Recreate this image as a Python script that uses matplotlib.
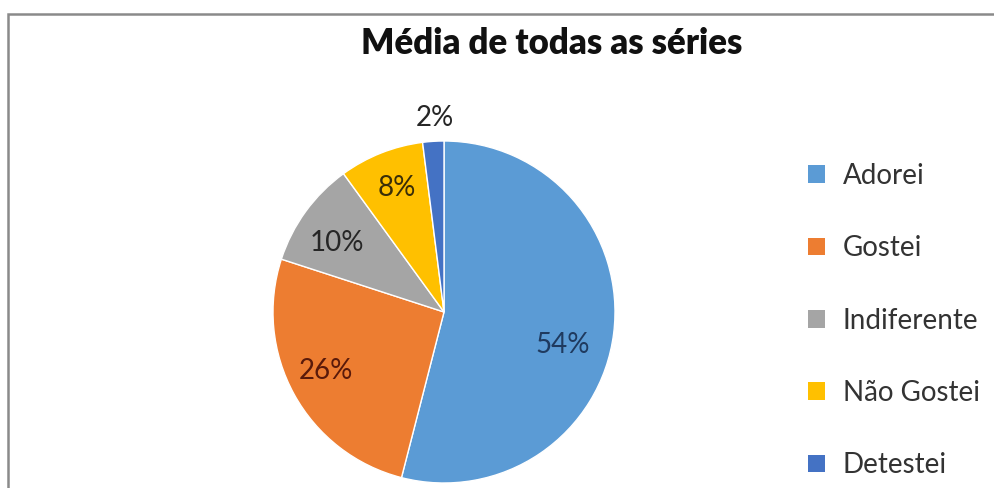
import numpy as np
import matplotlib.pyplot as plt
from matplotlib.patches import Rectangle

categories = ['Adorei', 'Gostei', 'Indiferente', 'Não Gostei', 'Detestei']
values = [54, 26, 10, 8, 2]
colors = ['#5B9BD5', '#ED7D31', '#A5A5A5', '#FFC000', '#4472C4']
label_colors = ['#1f3a5f', '#5a1a0a', '#262626', '#3a2e08', '#262626']
# label placement (radius fraction, angle nudge in degrees)
label_dist = [0.72, 0.77, 0.745, 0.776, 1.138]
label_shift = [-8.3, -2.2, 3.0, -0.8, -1.0]

plt.rcParams['font.family'] = ['Lato', 'DejaVu Sans']

fig = plt.figure(figsize=(9.95, 4.88), dpi=100)
fig.patch.set_facecolor('white')

# chart frame
fig.patches.append(Rectangle((8 / 995, -0.2), 1.2, (488 - 14) / 488 + 0.2,
                             transform=fig.transFigure, fill=False,
                             edgecolor='#8a8a8a', linewidth=1.8))

ax = fig.add_axes([(444 - 171) / 995, (488 - 312 - 171) / 488, 342 / 995, 342 / 488])
wedges, texts, autotexts = ax.pie(values, colors=colors, startangle=90, counterclock=False,
                                  autopct='%1.0f%%', pctdistance=0.75,
                                  wedgeprops=dict(edgecolor='white', linewidth=1),
                                  textprops=dict(fontsize=20))
ax.set_xlim(-1, 1)
ax.set_ylim(-1, 1)
ax.set_aspect('equal')

for i, (w, t) in enumerate(zip(wedges, autotexts)):
    ang = np.deg2rad((w.theta1 + w.theta2) / 2 + label_shift[i])
    t.set_position((label_dist[i] * np.cos(ang), label_dist[i] * np.sin(ang)))
    t.set_color(label_colors[i])
    t.set_ha('center')
    t.set_va('center')

fig.text(552 / 995, 1 - 43 / 488, 'Média de todas as séries', ha='center', va='center',
         fontsize=25, fontweight='heavy', color='#111111')

leg = ax.legend(wedges, categories, loc='center left', bbox_to_anchor=(808 / 995, 1 - 320.5 / 488),
                bbox_transform=fig.transFigure, frameon=False, fontsize=20,
                handlelength=0.6, handleheight=0.6, handletextpad=0.65,
                labelspacing=1.67, borderpad=0, borderaxespad=0)
for txt in leg.get_texts():
    txt.set_color('#333333')
for h in leg.legend_handles:
    h.set_edgecolor('none')

fig.savefig('out.png', dpi=100, facecolor='white')
